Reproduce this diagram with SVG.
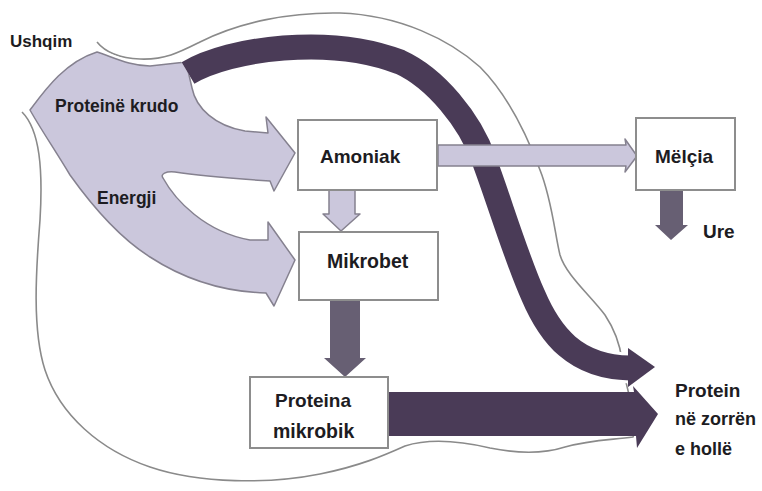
<svg xmlns="http://www.w3.org/2000/svg" width="762" height="491" viewBox="0 0 762 491">
<style>
.box{fill:#fff;stroke:#8d8d8d;stroke-width:2}
.lbl{font-family:"Liberation Sans",Arial,sans-serif;font-weight:bold;fill:#1d1c22}
.light{fill:#cbc7dc;stroke:#85818f;stroke-width:1.5;stroke-linejoin:round}
.dark{fill:#4a3b57}
.mid{fill:#675f73}
</style>
<rect width="762" height="491" fill="#fff"/>
<g id="rumen-outline">
<path d="M97,42 C105,52 118,58 140,59 C165,60 180,52 200,42 C240,22 290,12 340,13 C400,15 450,40 480,67 C505,92 525,130 540,170 C552,200 555,235 560,255 C566,275 590,295 605,315 C615,330 620,345 622,360 C625,390 640,420 633,437 C610,440 590,440 565,447 C540,455 515,453 490,448 C460,441 430,438 405,446 C385,455 360,466 320,474 C270,484 200,484 150,467 C100,450 60,415 45,370 C32,330 36,270 40,220 C43,170 40,130 22,112" fill="none" stroke="#8a8a8a" stroke-width="1.6"/>
</g>
<g id="ushqim-flow">
<path d="M30,110 C45,90 65,62 97,52 C115,58 130,66 150,66 L186,62 L192,88 C196,108 215,126 245,131 L268,133 L266,117 L295,153 L274,191 L270,181 C240,179 200,176 175,172 C166,171 160,174 163,178 C175,200 205,232 250,240 L268,240 L268,222 L295,260 L274,306 L266,293 C230,292 190,283 150,257 C120,238 95,210 70,175 C55,150 40,128 30,110 Z" fill="none" stroke="#fff" stroke-width="6" stroke-linejoin="round"/>
<path class="light" d="M30,110 C45,90 65,62 97,52 C115,58 130,66 150,66 L186,62 L192,88 C196,108 215,126 245,131 L268,133 L266,117 L295,153 L274,191 L270,181 C240,179 200,176 175,172 C166,171 160,174 163,178 C175,200 205,232 250,240 L268,240 L268,222 L295,260 L274,306 L266,293 C230,292 190,283 150,257 C120,238 95,210 70,175 C55,150 40,128 30,110 Z"/>
</g>
<g id="connectors">
<path d="M188,73 C230,48 330,35 400,62 C435,78 470,120 484,160 C499,200 517,260 533,295 C550,335 575,367 630,368" fill="none" stroke="#fff" stroke-width="31"/>
<path d="M188,73 C230,48 330,35 400,62 C435,78 470,120 484,160 C499,200 517,260 533,295 C550,335 575,367 630,368" fill="none" stroke="#4a3b57" stroke-width="25"/>
<polygon class="dark" points="628,348 655,367 628,387"/>
<polygon class="dark" points="388,392 634,392 633,386 658,414 637,448 636,436 388,436"/>
<polygon class="mid" points="330,300 360,300 360,358 366,358 345,377 324,358 330,358"/>
<polygon class="mid" points="660,190 683,190 683,225 688,225 671,240 655,225 660,225"/>
<polygon class="light" points="438,145 626,145 625,139 637,156 625,172 626,166 438,166"/>
<polygon class="light" points="329,190 355,190 355,214 360,214 341,231 323,214 329,214"/>
</g>
<g id="amoniak">
<rect class="box" x="298" y="120" width="139" height="70"/>
<text class="lbl" x="320" y="163" font-size="19">Amoniak</text>
</g>
<g id="mikrobet">
<rect class="box" x="299" y="232" width="139" height="68"/>
<text class="lbl" x="327" y="268" font-size="19.5">Mikrobet</text>
</g>
<g id="melcia">
<rect class="box" x="636" y="118" width="99" height="72"/>
<text class="lbl" x="655" y="163" font-size="19">Mëlçia</text>
</g>
<g id="proteina-mikrobik">
<rect class="box" x="250" y="377" width="138" height="71"/>
<text class="lbl" x="275" y="407" font-size="19">Proteina</text>
<text class="lbl" x="273" y="438" font-size="19.5">mikrobik</text>
</g>
<g id="labels">
<text class="lbl" x="10" y="47" font-size="17">Ushqim</text>
<text class="lbl" x="55" y="112" font-size="17.5">Proteinë krudo</text>
<text class="lbl" x="97" y="204" font-size="17.5">Energji</text>
<text class="lbl" x="703" y="238" font-size="19">Ure</text>
<text class="lbl" x="675" y="397" font-size="19">Protein</text>
<text class="lbl" x="675" y="425" font-size="18">në zorrën</text>
<text class="lbl" x="675" y="455" font-size="18">e hollë</text>
</g>
</svg>
